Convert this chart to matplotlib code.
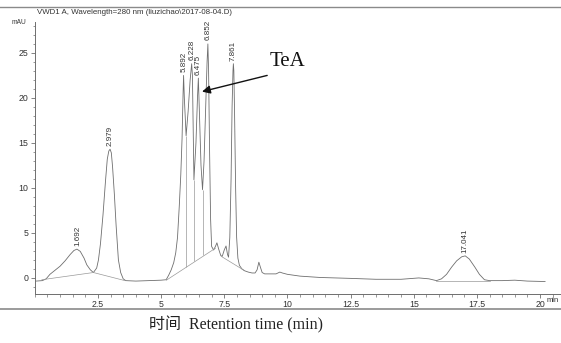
import matplotlib.pyplot as plt
from matplotlib.lines import Line2D
from matplotlib.ticker import MultipleLocator

# traced chromatogram (time in min, signal in mAU)
trace_t = [0.05, 0.3, 0.45, 0.6, 0.8, 1.0, 1.2, 1.4, 1.55, 1.67, 1.8, 1.95, 2.06, 2.2, 2.32,
           2.45, 2.52, 2.6, 2.7, 2.8, 2.87, 2.93, 2.98, 3.03, 3.08, 3.15, 3.22, 3.31, 3.4, 3.5, 3.6,
           4.0, 4.5, 5.0, 5.2, 5.3, 5.4, 5.5, 5.58, 5.65, 5.72, 5.78, 5.83, 5.87, 5.89, 5.92, 5.99,
           6.07, 6.15, 6.21, 6.24, 6.3, 6.38, 6.44, 6.475, 6.51, 6.58, 6.64, 6.7, 6.76, 6.82, 6.852,
           6.88, 6.92, 6.96, 7.0, 7.08, 7.15, 7.21, 7.28, 7.36, 7.42, 7.5, 7.57, 7.63, 7.67, 7.72,
           7.77, 7.81, 7.845, 7.861, 7.88, 7.91, 7.95, 7.99, 8.04, 8.1, 8.2, 8.3, 8.45, 8.6, 8.72,
           8.8, 8.87, 8.93, 9.0, 9.1, 9.3, 9.55, 9.7, 9.8, 10.0, 10.5, 11.3, 12.5, 13.5, 14.5, 15.2,
           15.6, 15.9, 16.1, 16.3, 16.5, 16.7, 16.9, 17.04, 17.2, 17.42, 17.6, 17.8, 18.0, 18.5,
           19.0, 19.5, 20.2]
trace_v = [-0.35, -0.3, -0.1, 0.4, 0.85, 1.3, 1.9, 2.6, 3.05, 3.2, 2.95, 2.2, 1.45, 0.9, 0.6,
           1.1, 2.0, 3.8, 7.0, 10.8, 13.2, 14.1, 14.3, 13.9, 12.3, 9.3, 5.8, 2.0, 0.6, -0.1, -0.3,
           -0.35, -0.3, -0.25, -0.2, 0.3, 0.9, 1.7, 2.8, 4.5, 8.0, 11.5, 15.5, 20.5, 22.5, 20.0, 15.8,
           18.5, 22.0, 23.8, 22.5, 10.9, 15.0, 20.0, 22.2, 19.0, 12.5, 9.8, 13.0, 18.5, 24.0, 26.0,
           23.0, 14.0, 6.5, 3.5, 3.1, 3.5, 3.9, 3.2, 2.5, 2.4, 3.1, 3.55, 2.6, 2.3, 4.5,
           11.0, 19.0, 23.0, 23.8, 23.0, 18.0, 10.0, 4.5, 2.2, 1.4, 1.0, 0.8, 0.65, 0.55, 0.55,
           0.9, 1.75, 1.2, 0.6, 0.45, 0.45, 0.45, 0.65, 0.55, 0.4, 0.2, 0.05, -0.05, -0.15, -0.15, 0.0,
           -0.1, -0.3, -0.1, 0.4, 1.2, 1.9, 2.35, 2.45, 2.1, 1.2, 0.4, -0.2, -0.3, -0.3,
           -0.25, -0.35, -0.4]

# integration baselines
base_segments = [
    ([0.28, 2.32, 3.57], [-0.2, 0.6, -0.3]),
    ([5.21, 7.15], [-0.25, 3.3]),
    ([7.38, 8.28], [2.4, 0.85]),
    ([15.9, 18.0], [-0.3, -0.3]),
]
# drop lines at valleys: time, bottom (baseline), top (signal)
drop_t = [5.99, 6.30, 6.64]
drop_bottom = [1.25, 1.85, 2.5]
drop_top = [15.8, 10.9, 9.8]

peak_rt = [1.692, 2.979, 5.892, 6.228, 6.475, 6.852, 7.861, 17.041]
peak_top = [3.2, 14.3, 22.5, 23.9, 22.2, 26.1, 23.8, 2.45]

gray = '#6e6e6e'
fig = plt.figure(figsize=(5.61, 3.43), dpi=100)
ax = fig.add_axes([0.062, 0.143, 0.938, 0.793])

ax.plot(trace_t, trace_v, color=gray, lw=0.6)
for xs, ys in base_segments:
    ax.plot(xs, ys, color='#999999', lw=0.5)
ax.vlines(drop_t, drop_bottom, drop_top, color='#999999', lw=0.5)

for rt, top in zip(peak_rt, peak_top):
    ax.text(rt, top + 0.35, f'{rt:.3f}', rotation=90, ha='center', va='bottom',
            fontsize=5.8, color='#333333', family='Liberation Sans')

# TeA marker
ax.text(9.3, 24.0, 'TeA', fontsize=15, family='Liberation Serif', color='#111111',
        va='center', ha='left')
ax.annotate('', xy=(6.62, 20.7), xytext=(9.2, 22.5),
            arrowprops=dict(arrowstyle='-|>', color='#111111', lw=1.0,
                            mutation_scale=12, shrinkA=0, shrinkB=0))

ax.set_xlim(0, 20.83)
ax.set_ylim(-1.78, 28.44)
ax.xaxis.set_minor_locator(MultipleLocator(0.5))
ax.yaxis.set_minor_locator(MultipleLocator(1))
ax.set_xticks([2.5, 5, 7.5, 10, 12.5, 15, 17.5, 20])
ax.set_xticklabels(['2.5', '5', '7.5', '10', '12.5', '15', '17.5', '20'])
ax.set_yticks([0, 5, 10, 15, 20, 25])
for s in ['top', 'right']:
    ax.spines[s].set_visible(False)
for s in ['left', 'bottom']:
    ax.spines[s].set_color(gray)
    ax.spines[s].set_linewidth(0.7)
ax.tick_params(which='major', length=3, width=0.6, color=gray, labelsize=6.3,
               labelcolor='#333333', pad=1.5)
ax.tick_params(which='minor', length=1.8, width=0.5, color=gray)
for lab in ax.get_xticklabels() + ax.get_yticklabels():
    lab.set_family('Liberation Sans')

fig.text(0.0214, 0.935, 'mAU', fontsize=4.8, color='#333333', family='Liberation Sans',
         va='center')
fig.text(0.985, 0.124, 'min', fontsize=5.5, color='#333333', family='Liberation Sans',
         va='center', ha='center')
fig.text(0.066, 0.965, 'VWD1 A, Wavelength=280 nm (liuzichao\\2017-08-04.D)', fontsize=5.7,
         color='#333333', family='Liberation Sans', va='center')
fig.text(0.42, 0.052, '时间  Retention time (min)', fontsize=11.5, color='#222222',
         family=['Liberation Serif', 'Noto Sans CJK SC'], ha='center', va='center')

fig.add_artist(Line2D([0, 1], [0.98, 0.98], color='#8a8a8a', lw=1.0, transform=fig.transFigure))
fig.add_artist(Line2D([0, 1], [0.099, 0.099], color='#8a8a8a', lw=1.2, transform=fig.transFigure))

fig.savefig('out.png', dpi=100)
